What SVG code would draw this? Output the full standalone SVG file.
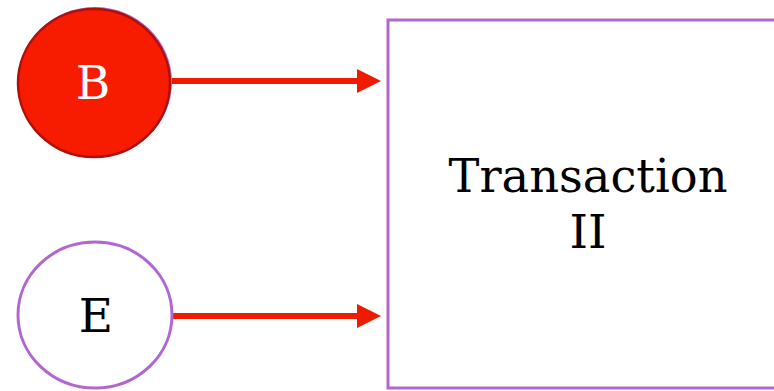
<svg xmlns="http://www.w3.org/2000/svg" width="774" height="391" viewBox="0 0 774 391">
<defs>
<style>
.lbl{font-family:"DejaVu Serif","Liberation Serif",serif;font-size:47px;text-anchor:middle}
.conn{stroke:#ee1b00;stroke-width:6;fill:none}
</style>
<marker id="ah" markerWidth="24" markerHeight="24" viewBox="0 0 24 24" refX="1" refY="12" orient="auto" markerUnits="userSpaceOnUse" overflow="visible">
<path d="M0,0 L24,12 L0,24 Z" fill="#ee1b00"/>
</marker>
</defs>
<rect width="774" height="391" fill="#fff"/>
<g id="connectors">
<line class="conn" x1="172" y1="81" x2="358" y2="81" marker-end="url(#ah)"/>
<line class="conn" x1="172" y1="316" x2="358" y2="316" marker-end="url(#ah)"/>
</g>
<g id="nodeB">
<ellipse cx="95" cy="82" rx="77" ry="75" fill="#b266d0"/>
<ellipse cx="94" cy="83" rx="76" ry="74" fill="#f71b00" stroke="#b0100c" stroke-width="2.5"/>
<text class="lbl" x="93" y="99" fill="#fff">B</text>
</g>
<g id="nodeE">
<ellipse cx="95" cy="315" rx="77" ry="73" fill="#fff" stroke="#b266d0" stroke-width="3"/>
<text class="lbl" x="96" y="332" fill="#000">E</text>
</g>
<g id="transaction">
<rect x="388" y="20" width="400" height="368" fill="#fff" stroke="#b266d0" stroke-width="3"/>
<text class="lbl" x="588" y="192" fill="#000" textLength="279" lengthAdjust="spacingAndGlyphs">Transaction</text>
<text class="lbl" x="588" y="248" fill="#000">II</text>
</g>
</svg>
